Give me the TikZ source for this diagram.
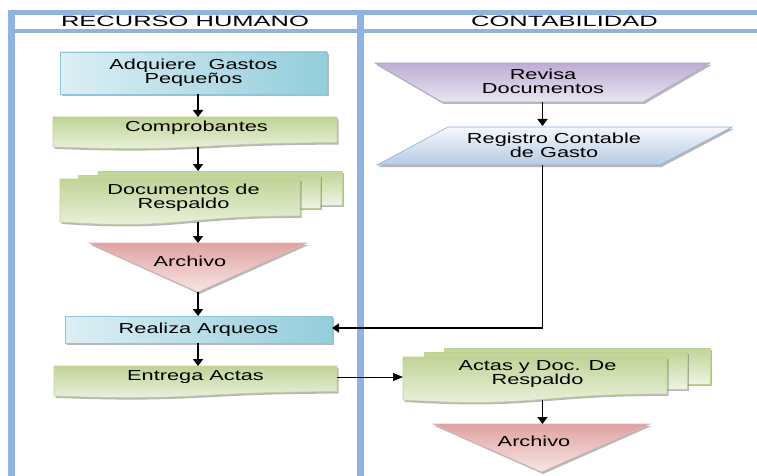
\documentclass[tikz,border=0pt]{standalone}
\usepackage{fontspec}
\setmainfont{Liberation Sans}[FakeStretch=1.5]
\newfontfamily\hdrfont{Liberation Sans}[FakeStretch=1.7]
\usetikzlibrary{shadows,arrows.meta,calc}
\pgfdeclarelayer{bg}
\pgfsetlayers{bg,main}

\definecolor{laneblue}{HTML}{8DB4E2}
\definecolor{cyanlight}{HTML}{DCEFF4}
\definecolor{cyandark}{HTML}{93CDDC}
\definecolor{cyanedge}{HTML}{8CC7D8}
\definecolor{greentop}{HTML}{C0D496}
\definecolor{greenbot}{HTML}{EEF4E3}
\definecolor{greenedge}{HTML}{BFD395}
\definecolor{redtop}{HTML}{DFA3A1}
\definecolor{redbot}{HTML}{F7E6E5}
\definecolor{rededge}{HTML}{E3B3B2}
\definecolor{lilactop}{HTML}{BCADD3}
\definecolor{lilacbot}{HTML}{EAE5F1}
\definecolor{lilacedge}{HTML}{B5A6CC}
\definecolor{slatetop}{HTML}{F5F8FC}
\definecolor{slatebot}{HTML}{B6CBE4}
\definecolor{slateedge}{HTML}{8EB0DA}

\tikzset{
  frameline/.style={draw=laneblue, line width=4.8pt},
  framev/.style={draw=laneblue, line width=6.5pt},
  hdr/.style={font=\hdrfont\fontsize{15}{15}\selectfont, inner sep=0pt},
  txt/.style={font=\fontsize{14.5}{14}\selectfont, align=center, inner sep=0pt},
  area/.style={inner sep=0pt, outer sep=0pt},
  softshadow/.style={drop shadow={shadow xshift=1.5pt, shadow yshift=-2pt, opacity=0.4, fill=black!70}},
  bluefill/.style={left color=cyanlight, right color=cyandark, draw=cyanedge, line width=0.6pt, softshadow},
  greenfill/.style={top color=greentop, bottom color=greenbot, draw=greenedge, line width=0.6pt, softshadow},
  redfill/.style={top color=redtop, bottom color=redbot, draw=rededge, line width=0.6pt, softshadow},
  lilacfill/.style={top color=lilactop, bottom color=lilacbot, draw=lilacedge, line width=0.6pt, softshadow},
  slatefill/.style={top color=slatetop, bottom color=slatebot, draw=slateedge, line width=0.6pt, softshadow},
  arr/.style={line width=1.6pt, -{Triangle[width=10pt,length=7pt]}},
  link/.style={line width=1.6pt, -{Triangle[width=9pt,length=7pt]}},
  linkthin/.style={line width=1pt, -{Triangle[width=8pt,length=10pt]}},
}

% document shape with a wavy lower edge, built on an invisible box node
\newcommand\docfrom[2]{%
  \path[#2] (#1.north west) -- (#1.north east)
    -- ($(#1.north east)!0.802!(#1.south east)$)
    .. controls ($(#1.north)!0.802!(#1.south)$) and ($(#1.north)!1.107!(#1.south)$)
    .. ($(#1.north west)!0.934!(#1.south west)$) -- cycle;}

\begin{document}
\begin{tikzpicture}[x=1pt,y=-1pt]
\useasboundingbox (0,0) rectangle (757,476);

% swimlane frame
\draw[frameline] (11.5,12.5) -- (765,12.5);
\draw[frameline] (11.5,31) -- (765,31);
\draw[framev] (11.5,9.6) -- (11.5,485);
\draw[framev] (360.3,9.6) -- (360.3,485);

\node[hdr] (hrh) at (185,21.8) {RECURSO HUMANO};
\node[hdr] (hcont) at (564.5,21.8) {CONTABILIDAD};

% lane axes for the vertical connectors
\coordinate (laneA) at (198,0);
\coordinate (laneB) at (542.5,0);

% ---- Recurso humano ----
\node[area, bluefill, txt, minimum width=267pt, minimum height=42pt] (adq) at (193.5,73)
  {Adquiere\ \ Gastos\\Pequeños};
\node[area, minimum width=284pt, minimum height=32pt] (comp) at (195,133) {};
\node[txt] (comp-t) at (196.5,128) {Comprobantes};
\node[area, minimum width=240pt, minimum height=46pt] (docs) at (180,202) {};
\node[txt] (docs-t) at (183.5,197.5) {Documentos de\\Respaldo};
\node[area, minimum width=218pt, minimum height=49pt] (arch1) at (198,267.5) {};
\node[txt] (arch1-t) at (190,261) {Archivo};
\node[area, bluefill, txt, minimum width=267pt, minimum height=27pt] (arq) at (198.5,329.5)
  {Realiza Arqueos};
\node[area, minimum width=283pt, minimum height=32pt] (ent) at (195.5,382) {};
\node[txt] (ent-t) at (195.5,377) {Entrega Actas};

% ---- Contabilidad ----
\node[area, minimum width=335pt, minimum height=39pt] (rev) at (542.5,82.5) {};
\node[txt] (rev-t) at (543,81) {Revisa\\Documentos};
\node[area, minimum width=355pt, minimum height=38pt] (reg) at (554.5,146) {};
\node[txt] (reg-t) at (554,145) {Registro Contable\\de Gasto};
\node[area, minimum width=264pt, minimum height=46pt] (actas) at (535,380) {};
\node[txt] (actas-t) at (537.5,374.5) {Actas y Doc. De\\Respaldo};
\node[area, minimum width=217pt, minimum height=48pt] (arch2) at (541.5,448) {};
\node[txt] (arch2-t) at (534,441) {Archivo};

% shapes behind the labels
\begin{pgfonlayer}{bg}
  \docfrom{comp}{greenfill}
  % stacked documents: two sheets behind the front one
  \path[greenfill] ([shift={(38,-8)}]docs.north west) rectangle ([shift={(42,-20)}]docs.south east);
  \path[greenfill] ([shift={(18,-4)}]docs.north west) rectangle ([shift={(20,-17)}]docs.south east);
  \docfrom{docs}{greenfill}
  \path[redfill] (arch1.north west) -- (arch1.north east) -- (arch1.south) -- cycle;
  \docfrom{ent}{greenfill}
  \path[lilacfill] (rev.north west) -- (rev.north east) -- ([xshift=-67pt]rev.south east)
    -- ([xshift=67pt]rev.south west) -- cycle;
  \path[slatefill] ([xshift=71pt]reg.north west) -- (reg.north east)
    -- ([xshift=-72pt]reg.south east) -- (reg.south west) -- cycle;
  \path[greenfill] ([shift={(41,-9)}]actas.north west) rectangle ([shift={(43,-19)}]actas.south east);
  \path[greenfill] ([shift={(21,-5)}]actas.north west) rectangle ([shift={(20,-14)}]actas.south east);
  \docfrom{actas}{greenfill}
  \path[redfill] (arch2.north west) -- (arch2.north east) -- (arch2.south) -- cycle;
\end{pgfonlayer}

% connectors
\draw[arr] (adq.south -| laneA) -- (comp.north -| laneA);
\draw[arr, shorten <=-2pt] (comp.south -| laneA) -- ([yshift=8pt]docs.north -| laneA);
\draw[arr, shorten <=-3pt] (docs.south -| laneA) -- (arch1.north -| laneA);
\draw[arr] (arch1.south) -- (arch1.south |- arq.north);
\draw[arr] (arq.south -| laneA) -- (ent.north -| laneA);

\draw[arr] (rev.south -| laneB) -- ([yshift=1pt]reg.north -| laneB);
\draw[link] (reg.south -| laneB) -- ([yshift=1.5pt]laneB |- arq.east) -- ([yshift=1.5pt]arq.east);
\draw[linkthin] ([yshift=5pt]ent.east) -- ([yshift=5pt]ent.east -| actas.west);
\draw[arr, shorten <=-3pt] (actas.south -| laneB) -- (arch2.north -| laneB);
\end{tikzpicture}
\end{document}
